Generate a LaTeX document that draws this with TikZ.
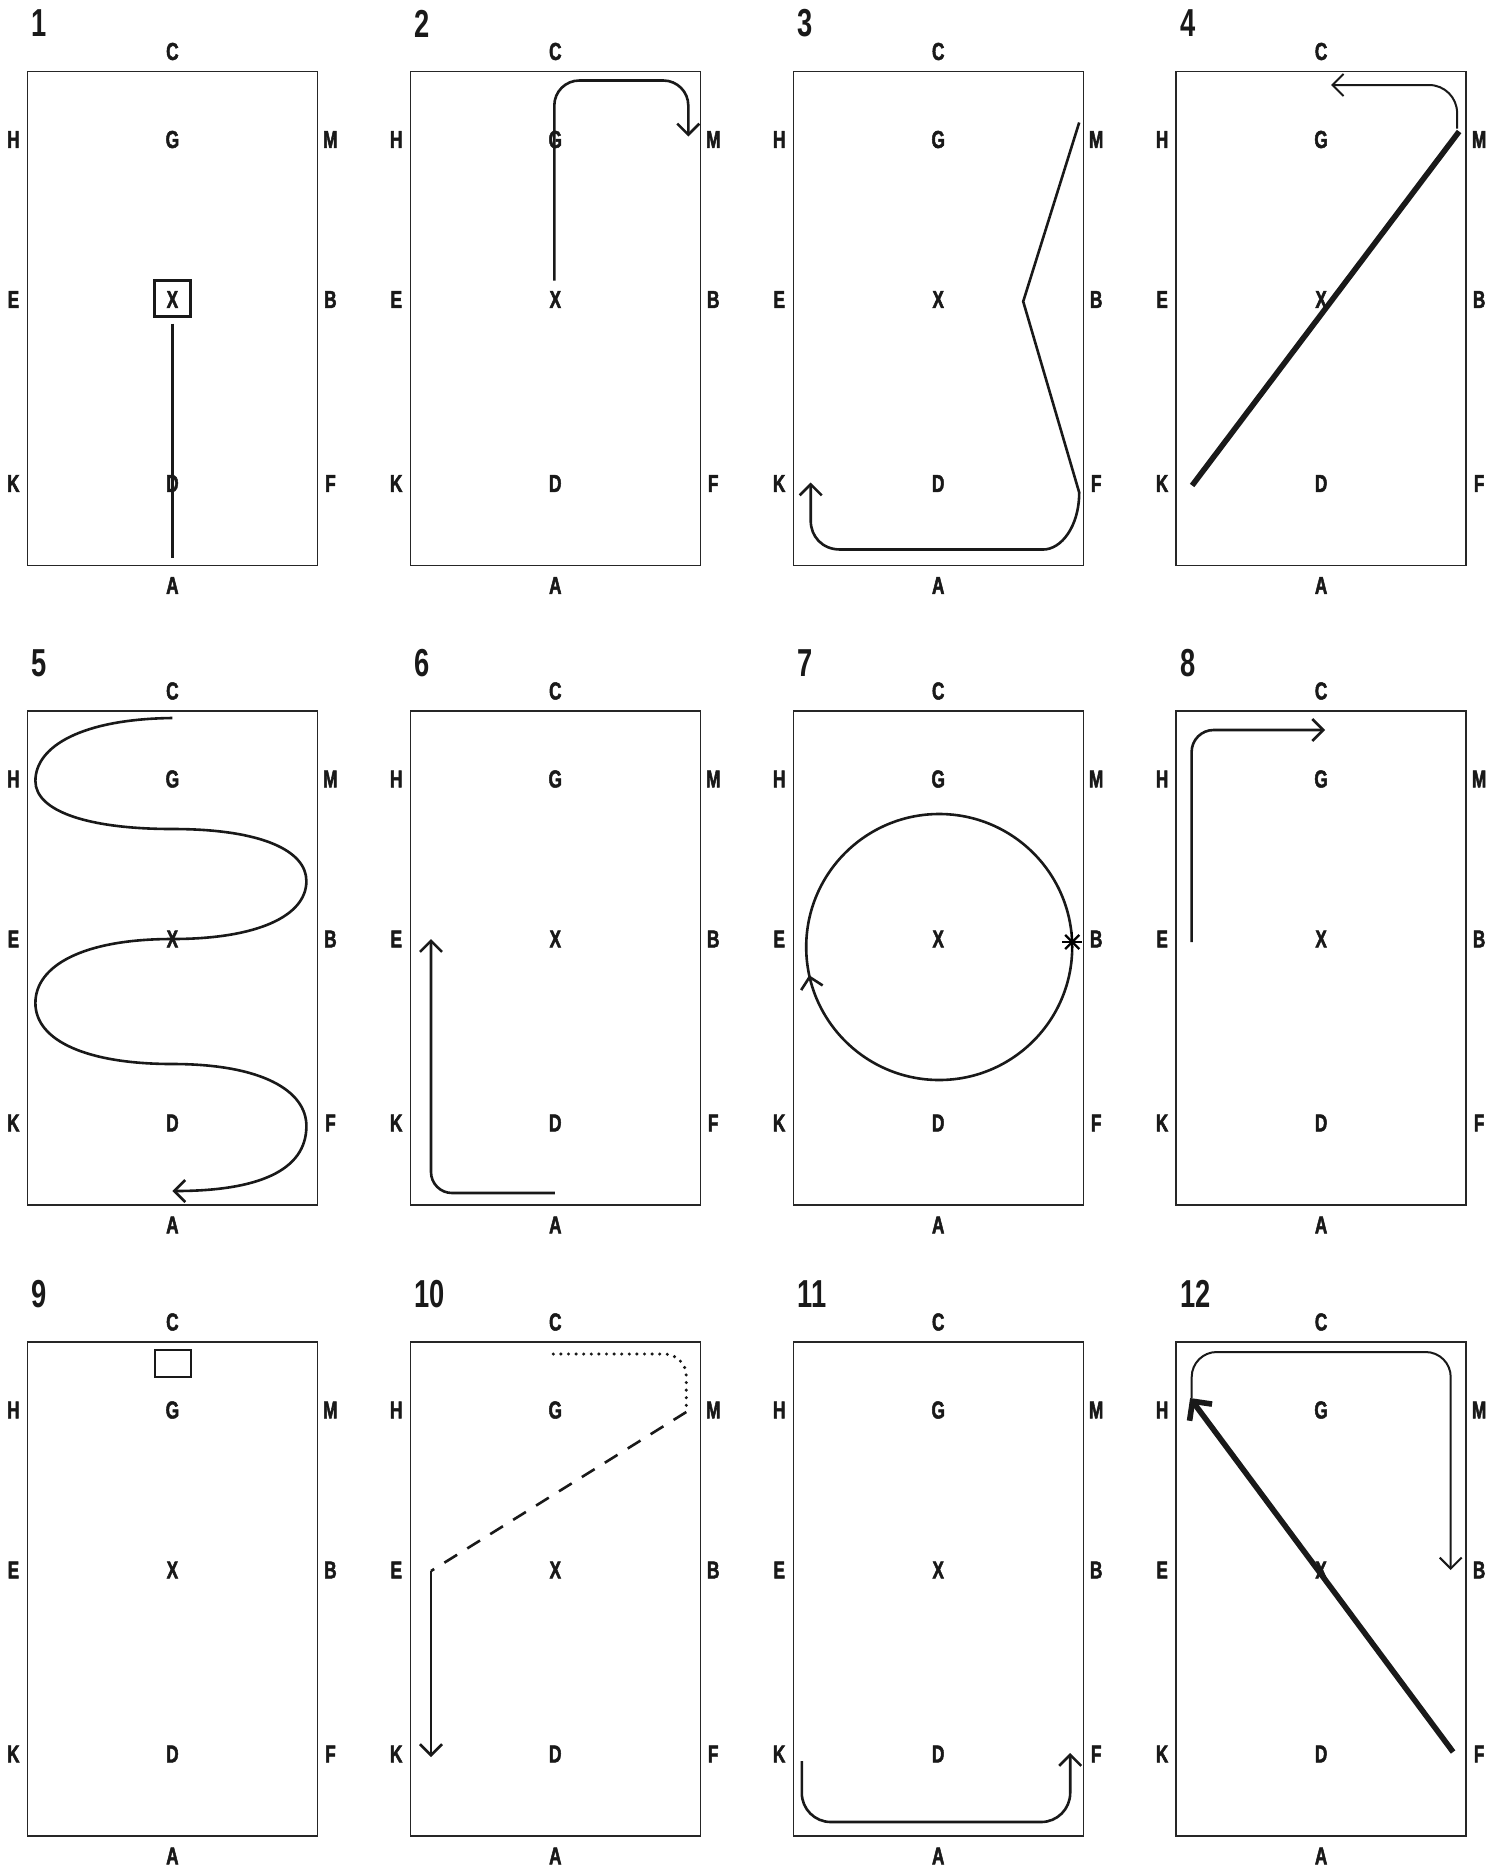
\documentclass[tikz,border=0pt]{standalone}
\usepackage{fontspec}
\newfontfamily\lbl[FakeStretch=0.7]{Liberation Sans}
\newfontfamily\lblh[FakeStretch=0.7,FakeBold=2]{Liberation Sans}
\usetikzlibrary{arrows.meta,decorations.markings}

\begin{document}
\begin{tikzpicture}[x=0.5pt,y=-0.5pt,
   frame/.style={draw=black!85,line width=0.7pt},
   mk/.style={font=\lblh\bfseries\fontsize{12.3}{13}\selectfont,inner sep=0pt,text=black!90},
   num/.style={font=\lbl\bfseries\fontsize{19.5}{20}\selectfont,inner sep=0pt,anchor=west,text=black!90},
   trk/.style={line width=1.3pt,black!90},
   lite/.style={line width=1pt,black!90},
   heavy/.style={line width=2.8pt,black!90},
   mbox/.style={draw=black!90,line width=1.1pt},
   fwd/.style={-{Straight Barb[length=5.5pt,width=11pt]}},
   fwdh/.style={-{Straight Barb[length=7pt,width=14pt]}}]
  \useasboundingbox (0,0) rectangle (1499,1869);
  % arenas with their letters
  \foreach \n/\c/\r in {1/0/71.5,2/1/71.5,3/2/71.5,4/3/71.5,5/0/711,6/1/711,7/2/711,8/3/711,
                        9/0/1342,10/1/1342,11/2/1342,12/3/1342}{
    \coordinate (o\n) at ({27.4+382.9*\c},\r);
    \begin{scope}[shift={(o\n)}]
      \draw[frame] (0,0) rectangle (290,494);
      \node[num] (n\n) at (4,-48) {\n};
      \foreach \t/\x/\y in {C/145/-20,A/145/514,H/-14/68,G/145/68,M/303/68,
                            E/-14/228,X/145/228,B/303/228,K/-14/412,D/145/412,F/303/412}
        \node[mk] (\t\n) at (\x,\y) {\t};
    \end{scope}
  }
  % 1
  \begin{scope}[shift={(o1)}]
    \draw[mbox] (127,209) rectangle (163,245);
    \draw[trk] (145,252) -- (145,486);
  \end{scope}
  % 2
  \begin{scope}[shift={(o2)}]
    \draw[trk,fwd,rounded corners=12.5pt] (144,209) -- (144,9) -- (278,9) -- (278,65);
  \end{scope}
  % 3
  \begin{scope}[shift={(o3)}]
    \draw[trk,fwd] (286,51) -- (230,230) -- (286,421)
        .. controls (286,455) and (268,478) .. (250,478) -- (47,478)
        .. controls (29,478) and (17.5,465) .. (17.5,449) -- (17.5,411);
  \end{scope}
  % 4
  \begin{scope}[shift={(o4)}]
    \draw[heavy] (16,414) -- (283,60);
    \draw[lite,fwd,rounded corners=14pt] (281,57) -- (281,13.5) -- (155,13.5);
  \end{scope}
  % 5
  \begin{scope}[shift={(o5)}]
    \draw[trk,fwd] (145,7) .. controls (55,8) and (8,35) .. (8,70)
        .. controls (8,100) and (60,118) .. (145,118)
        .. controls (235,118) and (279,140) .. (279,170)
        .. controls (279,205) and (230,228) .. (145,228)
        .. controls (55,228) and (8,255) .. (8,292)
        .. controls (8,330) and (60,353) .. (145,353)
        .. controls (235,353) and (279,380) .. (279,415)
        .. controls (279,460) and (230,480) .. (145,480);
  \end{scope}
  % 6
  \begin{scope}[shift={(o6)}]
    \draw[trk,fwd,rounded corners=10.5pt] (144.5,482) -- (20.7,482) -- (20.7,228);
  \end{scope}
  % 7
  \begin{scope}[shift={(o7)}]
    \draw[trk,postaction={decorate},
          decoration={markings,mark=at position 0.466 with {\arrow{Straight Barb[length=5.5pt,width=11pt]}}}]
        (146,236) circle[radius=133];
    \foreach \a in {0,45,90,135}
      \draw[line width=1.1pt] (279,231) ++(\a:10) -- ++(\a+180:20);
  \end{scope}
  % 8
  \begin{scope}[shift={(o8)}]
    \draw[trk,fwd,rounded corners=11pt] (15.5,231) -- (15.5,19) -- (149,19);
  \end{scope}
  % 9
  \begin{scope}[shift={(o9)}]
    \draw[mbox] (127.6,8) rectangle (163.3,35);
  \end{scope}
  % 10
  \begin{scope}[shift={(o10)}]
    \draw[line width=1.7pt,black!90,line cap=round,dash pattern=on 0pt off 3.8pt,rounded corners=11pt]
        (143,12) -- (276,12) -- (276,70);
    \draw[trk,dash pattern=on 7.5pt off 6pt] (276,70) -- (20.7,229);
    \draw[trk,fwd] (20.7,229) -- (20.7,415);
  \end{scope}
  % 11
  \begin{scope}[shift={(o11)}]
    \draw[trk,fwd,rounded corners=14.5pt] (8.6,419) -- (8.6,480) -- (277,480) -- (277,411);
  \end{scope}
  % 12
  \begin{scope}[shift={(o12)}]
    \draw[lite,fwd,rounded corners=12.5pt] (15.6,56) -- (15.6,10) -- (274.6,10) -- (274.6,228);
    \draw[heavy,fwdh] (277,410) -- (14,56);
  \end{scope}
\end{tikzpicture}
\end{document}
